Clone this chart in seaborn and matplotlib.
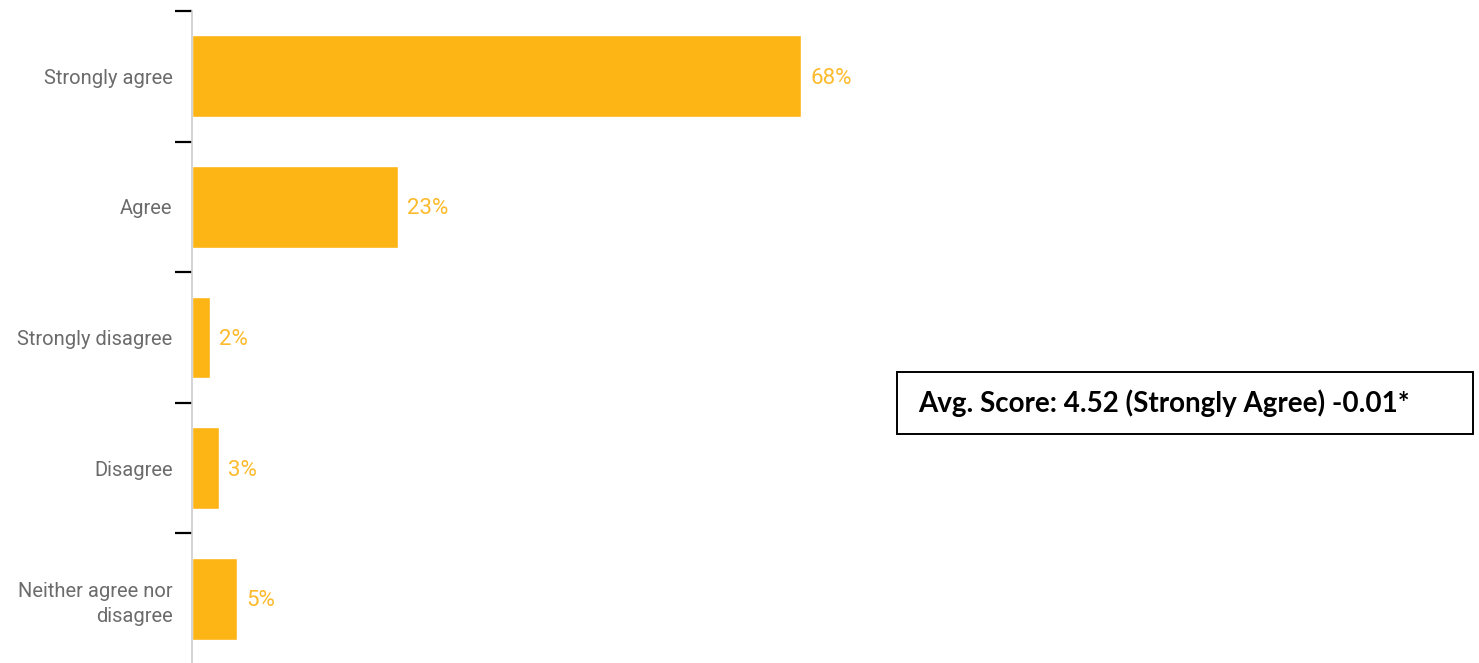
import matplotlib
matplotlib.use("Agg")
import matplotlib.pyplot as plt
import seaborn as sns
import pandas as pd
import numpy as np

categories = ["Strongly agree", "Agree", "Strongly disagree", "Disagree",
              "Neither agree nor\ndisagree"]
percentages = [68, 23, 2, 3, 5]
summary_text = "Avg. Score: 4.52 (Strongly Agree) -0.01*"

bar_color = "#FDB415"
label_color = "#FDBA2C"
tick_text_color = "#6B6B6B"

sns.set_theme(style="white")
plt.rcParams["font.family"] = ["Roboto", "DejaVu Sans"]

df = pd.DataFrame({"category": categories, "pct": percentages})

W, H = 1479, 663
fig = plt.figure(figsize=(W / 100, H / 100), dpi=100)
ax = fig.add_axes([192 / W, -1 / H, (880 - 192) / W, 653 / H])

sns.barplot(data=df, x="pct", y="category", orient="h", color=bar_color,
            saturation=1, width=0.625, ax=ax)

ax.set_xlim(0, 688 / 8.96)
ax.set_ylim(len(categories) - 0.5, -0.5)
ax.set_xlabel("")
ax.set_ylabel("")
ax.set_xticks([])

for side in ["top", "right", "bottom"]:
    ax.spines[side].set_visible(False)
ax.spines["left"].set_color("#CCCCCC")
ax.spines["left"].set_linewidth(1.2)

# category labels without marks, black marks at category boundaries
ax.tick_params(axis="y", which="major", length=0, pad=14,
               labelsize=14.5, labelcolor=tick_text_color)
for lbl in ax.get_yticklabels():
    lbl.set_linespacing(1.45)
ax.set_yticks(np.arange(-0.5, len(categories) - 0.5, 1), minor=True)
ax.tick_params(axis="y", which="minor", length=12, width=1.6, color="black",
               left=True)

for i, v in enumerate(percentages):
    ax.annotate(f"{v}%", xy=(v, i), xytext=(6.5, -1.5), textcoords="offset points",
                va="center", ha="left", fontsize=16, color=label_color)

# summary box
box_x0, box_y0, box_x1, box_y1 = 897, 372, 1473, 434
fig.patches.append(plt.Rectangle((box_x0 / W, 1 - box_y1 / H),
                                 (box_x1 - box_x0) / W, (box_y1 - box_y0) / H,
                                 transform=fig.transFigure, fill=False,
                                 edgecolor="black", linewidth=1.4))
fig.text(918 / W, 1 - 403 / H, summary_text, ha="left", va="center",
         fontsize=20, fontweight="bold", color="black",
         family=["Lato", "DejaVu Sans"])

fig.savefig("out.png", dpi=100)
